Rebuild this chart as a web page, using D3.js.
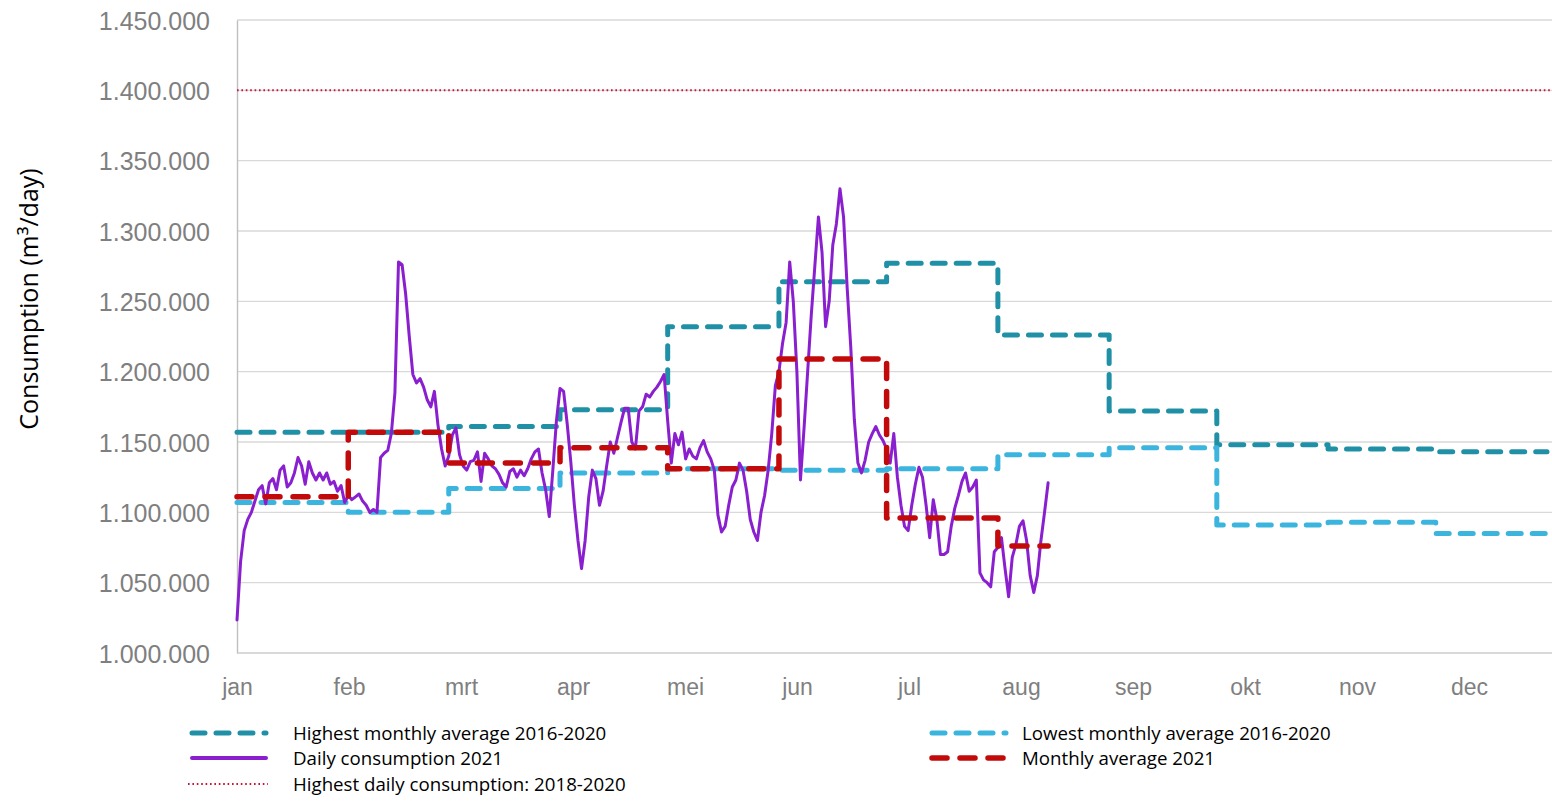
<!DOCTYPE html>
<html>
<head>
<meta charset="utf-8">
<script src="https://cdn.jsdelivr.net/npm/d3@7"></script>
<style>
  body { margin: 0; background: #fff; }
  svg { display: block; font-family: Lato, "Open Sans", sans-serif; }
</style>
</head>
<body>
<div id="chart"></div>
<script>
// values in thousands of m3/day
const months = ['jan', 'feb', 'mrt', 'apr', 'mei', 'jun', 'jul', 'aug', 'sep', 'okt', 'nov', 'dec'];
const yTicks = [1000, 1050, 1100, 1150, 1200, 1250, 1300, 1350, 1400, 1450];

const highestMonthly = [1157, 1157, 1161, 1173, 1232, 1264, 1277, 1226, 1172, 1148, 1145, 1143];
const lowestMonthly = [1107, 1100, 1117, 1128, 1131, 1130, 1131, 1141, 1146, 1091, 1093, 1085];
const monthlyAverage2021 = [1111, 1157, 1135, 1146, 1131, 1209, 1096, 1076];
const highestDaily = 1400;

// one value per day from 1 jan 2021
const dailyConsumption2021 = [
  // jan
  1023.5, 1065, 1087, 1095, 1100, 1108, 1116, 1119, 1106, 1121, 1124, 1116, 1130, 1133, 1118, 1121,
  1128, 1139, 1133, 1120, 1136, 1128, 1123, 1128, 1123, 1128, 1120, 1122, 1115, 1119, 1107,
  // feb
  1112, 1109, 1111, 1113, 1108, 1105, 1100, 1102, 1100, 1139, 1142, 1144, 1156, 1185, 1278, 1276,
  1255, 1225, 1198, 1192, 1195, 1189, 1180, 1175, 1186, 1162, 1145, 1133,
  // mrt
  1140, 1155, 1160, 1141, 1133, 1130, 1136, 1137, 1143, 1122, 1142, 1138, 1133, 1131, 1127, 1121,
  1118, 1129, 1131, 1125, 1130, 1126, 1131, 1138, 1143, 1145, 1128, 1116, 1097, 1130, 1165,
  // apr
  1188, 1186, 1163, 1136, 1105, 1080, 1060, 1080, 1111, 1130, 1124, 1105, 1115, 1133, 1150, 1142,
  1153, 1164, 1174, 1174, 1150, 1145, 1172, 1175, 1184, 1182, 1186, 1189, 1193, 1198,
  // mei
  1165, 1135, 1156, 1148, 1157, 1138, 1145, 1140, 1138, 1146, 1151, 1143, 1138, 1130, 1098, 1086,
  1090, 1105, 1118, 1123, 1135, 1130, 1115, 1095, 1086, 1080, 1100, 1112, 1130, 1156, 1190,
  // jun
  1200, 1220, 1235, 1278, 1250, 1200, 1123, 1160, 1200, 1240, 1275, 1310, 1285, 1232, 1250, 1290,
  1305, 1330, 1310, 1260, 1218, 1166, 1135, 1128, 1137, 1150, 1156, 1161, 1155, 1151,
  // jul
  1145, 1135, 1156, 1125, 1105, 1090, 1087, 1105, 1120, 1132, 1125, 1105, 1082, 1109, 1095, 1070,
  1070, 1072, 1090, 1103, 1112, 1122, 1128, 1115, 1118, 1123, 1057, 1052, 1050, 1047, 1072,
  // aug
  1075, 1082, 1060, 1040, 1068, 1077, 1090, 1094, 1080, 1055, 1043, 1055, 1080, 1100, 1121,
];

const legendItems = [
  { label: 'Highest monthly average 2016-2020', key: 'highest', col: 0, row: 0 },
  { label: 'Lowest monthly average 2016-2020', key: 'lowest', col: 1, row: 0 },
  { label: 'Daily consumption 2021', key: 'daily', col: 0, row: 1 },
  { label: 'Monthly average 2021', key: 'average', col: 1, row: 1 },
  { label: 'Highest daily consumption: 2018-2020', key: 'peak', col: 0, row: 2 },
];

const styles = {
  highest: { stroke: '#2090a6', width: 5, dash: '13 11', cap: 'round' },
  lowest: { stroke: '#3bb5de', width: 5, dash: '13 11', cap: 'round' },
  daily: { stroke: '#8a1fcf', width: 3, dash: null, cap: 'round' },
  average: { stroke: '#c20a0a', width: 5.5, dash: '15 13', cap: 'round' },
  peak: { stroke: '#c8143c', width: 2, dash: '1.6 2.8', cap: 'butt' },
};

const WIDTH = 1552;
const HEIGHT = 807;
const LEFT = 237;
const TOP = 20;
const BOTTOM = 653;
const RIGHT = 1552;

const drawChart = () => {
  const svg = d3.create('svg').attr('width', WIDTH).attr('height', HEIGHT);

  const start = new Date(Date.UTC(2021, 0, 1));
  const end = new Date(Date.UTC(2022, 0, 1));
  const dayDate = (i) => d3.utcDay.offset(start, i);
  const monthDate = (i) => new Date(Date.UTC(2021, i, 1));

  const xScale = d3.scaleUtc().domain([start, end]).range([LEFT, 1547]);
  const labelScale = d3.scalePoint().domain(months).range([237, 1469]);
  const yScale = d3.scaleLinear().domain([1000, 1450]).range([BOTTOM, TOP]);

  const nlFormat = d3.formatLocale({
    decimal: ',',
    thousands: '.',
    grouping: [3],
    currency: ['€', ''],
  }).format(',d');

  // gridlines
  svg
    .append('g')
    .selectAll('line')
    .data(yTicks)
    .join('line')
    .attr('x1', LEFT)
    .attr('x2', RIGHT)
    .attr('y1', (d) => yScale(d))
    .attr('y2', (d) => yScale(d))
    .attr('stroke', '#d9d9d9')
    .attr('stroke-width', 1.4);

  // left axis
  const axisLeft = d3
    .axisLeft(yScale)
    .tickValues(yTicks)
    .tickSize(0)
    .tickPadding(27)
    .tickFormat((d) => nlFormat(d * 1000));
  const gy = svg
    .append('g')
    .attr('id', 'y-axis')
    .attr('transform', `translate(${LEFT}, 0)`)
    .call(axisLeft);
  gy.select('.domain').attr('stroke', '#bfbfbf').attr('stroke-width', 1.4);
  gy.selectAll('text')
    .attr('fill', '#7f7f7f')
    .style('font-size', '25px')
    .attr('dy', '0.36em');

  // bottom axis (month labels)
  const axisBottom = d3.axisBottom(labelScale).tickSize(0).tickPadding(26);
  const gx = svg
    .append('g')
    .attr('id', 'x-axis')
    .attr('transform', `translate(0, ${BOTTOM})`)
    .call(axisBottom);
  gx.select('.domain').attr('stroke', '#d0d0d0').attr('d', `M${LEFT},0H${RIGHT}`);
  gx.selectAll('text').attr('fill', '#7f7f7f').style('font-size', '23px');

  // series
  const stepLine = d3
    .line()
    .curve(d3.curveStepAfter)
    .x((d) => xScale(d.date))
    .y((d) => yScale(d.value));

  const monthSteps = (values, endDate) => {
    const points = values.map((value, i) => ({ date: monthDate(i), value }));
    points.push({ date: endDate, value: values[values.length - 1] });
    return points;
  };

  const dailyPoints = dailyConsumption2021.map((value, i) => ({ date: dayDate(i), value }));
  const lastDay = dayDate(dailyConsumption2021.length - 1);

  const series = [
    { key: 'highest', points: monthSteps(highestMonthly, end), line: stepLine },
    { key: 'lowest', points: monthSteps(lowestMonthly, end), line: stepLine },
    {
      key: 'daily',
      points: dailyPoints,
      line: d3.line().x((d) => xScale(d.date)).y((d) => yScale(d.value)),
    },
    { key: 'average', points: monthSteps(monthlyAverage2021, lastDay), line: stepLine },
    {
      key: 'peak',
      points: [
        { date: start, value: highestDaily },
        { date: end, value: highestDaily },
      ],
      line: d3.line().x((d, i) => (i === 0 ? LEFT : RIGHT)).y((d) => yScale(d.value)),
    },
  ];

  svg
    .append('g')
    .selectAll('path')
    .data(series)
    .join('path')
    .attr('d', (s) => s.line(s.points))
    .attr('fill', 'none')
    .attr('stroke', (s) => styles[s.key].stroke)
    .attr('stroke-width', (s) => styles[s.key].width)
    .attr('stroke-dasharray', (s) => styles[s.key].dash)
    .attr('stroke-linecap', (s) => styles[s.key].cap)
    .attr('stroke-linejoin', 'round');

  // axis title
  svg
    .append('text')
    .attr('transform', 'translate(38, 299) rotate(-90)')
    .attr('text-anchor', 'middle')
    .attr('fill', '#000')
    .style('font-family', '"Open Sans", sans-serif')
    .style('font-size', '25px')
    .text('Consumption (m³/day)');

  // legend
  const legendX = [188, 928];
  const legendY = [733, 758, 784];
  const legend = svg
    .append('g')
    .selectAll('g')
    .data(legendItems)
    .join('g')
    .attr('transform', (d) => `translate(${legendX[d.col]}, ${legendY[d.row]})`);

  legend
    .append('line')
    .attr('x1', (d) => (d.key === 'peak' ? 0 : 4))
    .attr('x2', (d) => (d.key === 'peak' ? 80 : 78))
    .attr('stroke', (d) => styles[d.key].stroke)
    .attr('stroke-width', (d) => (d.key === 'daily' ? 4 : styles[d.key].width))
    .attr('stroke-dasharray', (d) => styles[d.key].dash)
    .attr('stroke-linecap', (d) => styles[d.key].cap);

  legend
    .append('text')
    .attr('x', (d) => (d.col === 0 ? 105 : 94))
    .attr('dy', '0.35em')
    .attr('fill', '#000')
    .style('font-family', '"Open Sans", sans-serif')
    .style('font-size', '18.7px')
    .text((d) => d.label);

  document.getElementById('chart').appendChild(svg.node());
};

drawChart();
</script>
</body>
</html>
